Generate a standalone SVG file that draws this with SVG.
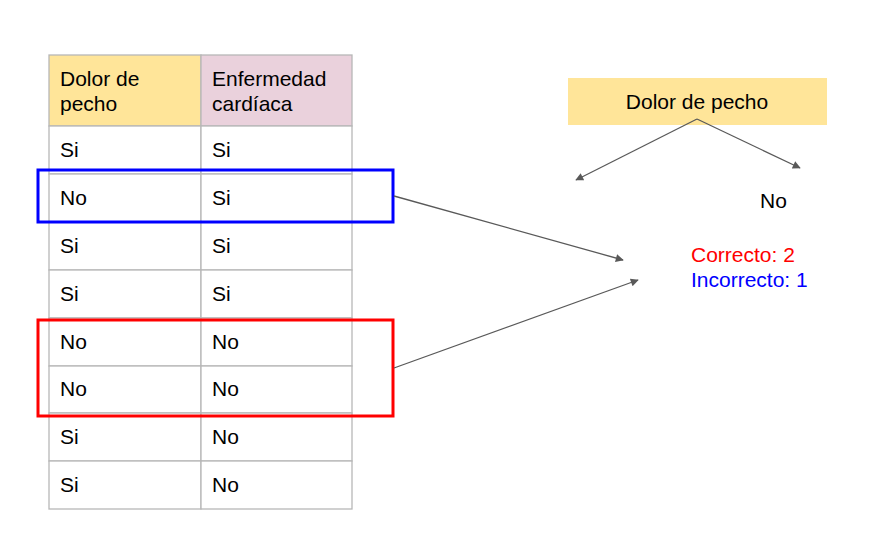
<svg xmlns="http://www.w3.org/2000/svg" width="877" height="539" viewBox="0 0 877 539">
<defs>
<style>
text{font-family:"Liberation Sans",Arial,sans-serif;font-size:21px;fill:#000}
.cell{fill:#fff;stroke:#b7b7b7;stroke-width:1.3}
.conn{stroke:#595959;stroke-width:1.3;fill:none;marker-end:url(#ah)}
</style>
<marker id="ah" viewBox="0 0 10 10" refX="9" refY="5" markerWidth="11" markerHeight="8" markerUnits="userSpaceOnUse" orient="auto"><path d="M0,0L10,5L0,10z" fill="#595959"/></marker>
</defs>
<rect width="877" height="539" fill="#fff"/>
<g id="table">
<rect x="49" y="55" width="152" height="71" fill="#ffe599" stroke="#b7b7b7" stroke-width="1.3"/>
<rect x="201" y="55" width="151" height="71" fill="#ead1dc" stroke="#b7b7b7" stroke-width="1.3"/>
<text x="60" y="86">Dolor de</text><text x="60" y="111">pecho</text>
<text x="212" y="86">Enfermedad</text><text x="212" y="111">cardíaca</text>
<rect class="cell" x="49" y="126" width="152" height="48"/><rect class="cell" x="201" y="126" width="151" height="48"/>
<rect class="cell" x="49" y="174" width="152" height="48"/><rect class="cell" x="201" y="174" width="151" height="48"/>
<rect class="cell" x="49" y="222" width="152" height="48"/><rect class="cell" x="201" y="222" width="151" height="48"/>
<rect class="cell" x="49" y="270" width="152" height="48"/><rect class="cell" x="201" y="270" width="151" height="48"/>
<rect class="cell" x="49" y="318" width="152" height="48"/><rect class="cell" x="201" y="318" width="151" height="48"/>
<rect class="cell" x="49" y="366" width="152" height="47"/><rect class="cell" x="201" y="366" width="151" height="47"/>
<rect class="cell" x="49" y="413" width="152" height="48"/><rect class="cell" x="201" y="413" width="151" height="48"/>
<rect class="cell" x="49" y="461" width="152" height="48"/><rect class="cell" x="201" y="461" width="151" height="48"/>
<text x="60" y="157">Si</text><text x="212" y="157">Si</text>
<text x="60" y="205">No</text><text x="212" y="205">Si</text>
<text x="60" y="253">Si</text><text x="212" y="253">Si</text>
<text x="60" y="301">Si</text><text x="212" y="301">Si</text>
<text x="60" y="349">No</text><text x="212" y="349">No</text>
<text x="60" y="396">No</text><text x="212" y="396">No</text>
<text x="60" y="444">Si</text><text x="212" y="444">No</text>
<text x="60" y="492">Si</text><text x="212" y="492">No</text>
</g>
<g id="blue-box"><rect x="38" y="170" width="355" height="52" fill="none" stroke="#0000ff" stroke-width="3"/></g>
<g id="red-box"><rect x="38" y="320" width="355" height="96" fill="none" stroke="#ff0000" stroke-width="3"/></g>
<g id="root">
<rect x="568" y="78" width="259" height="47" fill="#ffe599"/>
<text x="697" y="109" text-anchor="middle">Dolor de pecho</text>
</g>
<g id="leaf-no"><text x="760" y="208">No</text></g>
<g id="counts">
<text x="691" y="262" style="fill:#ff0000">Correcto: 2</text>
<text x="691" y="287" style="fill:#0000ff">Incorrecto: 1</text>
</g>
<g id="connectors">
<line class="conn" x1="697" y1="119" x2="576" y2="180"/>
<line class="conn" x1="697" y1="119" x2="800" y2="168"/>
<line class="conn" x1="394" y1="196" x2="623" y2="260"/>
<line class="conn" x1="394" y1="368" x2="638" y2="280"/>
</g>
</svg>
